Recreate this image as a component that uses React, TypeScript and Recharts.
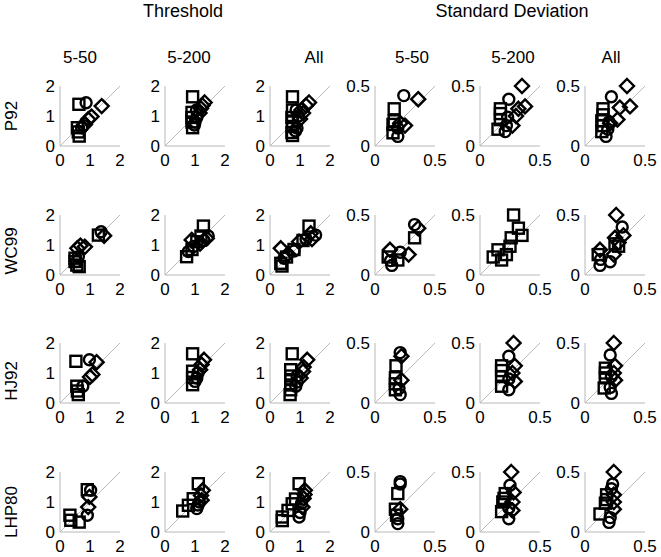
import { ScatterChart, Scatter, XAxis, YAxis, ReferenceLine } from 'recharts';

// [x, y] pairs per panel: sq = squares, ci = circles, di = diamonds
// Threshold panels (0-2)
const p92T50Sq = [[0.63, 1.39], [0.58, 0.61], [0.61, 0.47], [0.64, 0.33]];
const p92T50Ci = [[0.87, 1.44], [0.72, 0.61], [0.78, 0.68]];
const p92T50Di = [[0.83, 0.72], [0.94, 0.89], [1.05, 0.98], [1.39, 1.33]];
const p92T200Sq = [[0.92, 1.64], [0.9, 1.12], [0.9, 0.95], [0.9, 0.8], [0.92, 0.61]];
const p92T200Ci = [[1.0, 0.8], [1.06, 0.95], [1.05, 1.2], [0.98, 0.7]];
const p92T200Di = [[1.15, 1.1], [1.2, 1.25], [1.25, 1.35], [1.32, 1.45]];
const p92TAllSq = [[0.75, 1.64], [0.75, 1.2], [0.73, 0.95], [0.75, 0.8], [0.75, 0.65], [0.73, 0.45], [0.75, 0.35]];
const p92TAllCi = [[0.87, 1.2], [0.9, 0.6], [0.85, 0.5], [0.95, 1.0]];
const p92TAllDi = [[1.0, 0.9], [1.1, 1.1], [1.2, 1.35], [1.3, 1.45], [1.05, 1.2]];

const wc99T50Sq = [[1.28, 1.33], [0.5, 0.56], [0.56, 0.33], [0.64, 0.28], [0.5, 0.45]];
const wc99T50Ci = [[1.37, 1.44], [0.61, 0.61], [0.56, 0.45]];
const wc99T50Di = [[1.47, 1.31], [0.58, 0.89], [0.83, 0.94], [0.68, 0.98]];
const wc99T200Sq = [[1.28, 1.63], [0.72, 0.61], [1.06, 1.11], [1.2, 1.3], [0.9, 0.85]];
const wc99T200Ci = [[0.78, 0.78], [1.44, 1.3], [0.95, 0.95], [1.3, 1.15]];
const wc99T200Di = [[0.89, 1.17], [1.17, 1.05], [1.39, 1.22]];
const wc99TAllSq = [[1.3, 1.63], [0.36, 0.39], [0.55, 0.6], [1.1, 1.15], [0.4, 0.3], [0.8, 0.85]];
const wc99TAllCi = [[0.47, 0.56], [1.52, 1.33], [0.8, 0.8], [1.2, 1.2]];
const wc99TAllDi = [[0.36, 0.89], [0.97, 1.11], [1.36, 1.39], [0.6, 0.7], [1.4, 1.2]];

const hj92T50Sq = [[0.53, 1.39], [0.56, 0.56], [0.61, 0.28], [0.58, 0.4]];
const hj92T50Ci = [[0.98, 1.44], [0.76, 0.56]];
const hj92T50Di = [[1.22, 1.36], [1.0, 0.87], [1.08, 0.95]];
const hj92T200Sq = [[0.92, 1.64], [0.92, 1.06], [0.92, 0.61], [0.92, 0.85]];
const hj92T200Ci = [[1.06, 0.83], [1.1, 1.0], [1.0, 0.72]];
const hj92T200Di = [[1.3, 1.44], [1.17, 1.11], [1.22, 1.28]];
const hj92TAllSq = [[0.74, 1.64], [0.69, 1.11], [0.69, 0.9], [0.69, 0.78], [0.69, 0.44], [0.67, 0.28], [0.69, 0.6]];
const hj92TAllCi = [[0.86, 0.56], [0.9, 0.9], [0.9, 0.7]];
const hj92TAllDi = [[1.24, 1.44], [1.02, 0.83], [1.12, 1.2], [1.1, 1.05]];

const lhp80T50Sq = [[0.33, 0.56], [0.36, 0.39], [0.64, 0.33], [0.91, 1.41]];
const lhp80T50Ci = [[1.02, 1.39], [0.91, 0.56]];
const lhp80T50Di = [[0.98, 1.17], [0.94, 0.83]];
const lhp80T200Sq = [[0.59, 0.7], [0.78, 0.89], [1.11, 1.61], [0.94, 1.11]];
const lhp80T200Ci = [[1.06, 0.78], [1.15, 1.0], [1.1, 0.9]];
const lhp80T200Di = [[1.26, 1.39], [1.22, 1.06], [1.2, 1.22]];
const lhp80TAllSq = [[0.41, 0.5], [0.6, 0.72], [0.74, 0.94], [0.97, 1.61], [0.85, 1.1], [0.41, 0.38]];
const lhp80TAllCi = [[0.97, 0.5], [1.05, 0.95], [1.0, 0.65]];
const lhp80TAllDi = [[1.16, 1.39], [1.08, 0.83], [1.12, 1.12], [1.15, 1.25]];

// Standard deviation panels (0-0.5)
const p92S50Sq = [[0.16, 0.31], [0.15, 0.18], [0.15, 0.11], [0.16, 0.21]];
const p92S50Ci = [[0.24, 0.42], [0.19, 0.08], [0.19, 0.15]];
const p92S50Di = [[0.36, 0.39], [0.21, 0.19], [0.25, 0.17]];
const p92S200Sq = [[0.17, 0.31], [0.17, 0.22], [0.15, 0.14], [0.17, 0.27]];
const p92S200Ci = [[0.24, 0.39], [0.22, 0.17], [0.21, 0.12], [0.23, 0.24]];
const p92S200Di = [[0.35, 0.5], [0.375, 0.33], [0.32, 0.31], [0.27, 0.17], [0.3, 0.25]];
const p92SAllSq = [[0.15, 0.31], [0.14, 0.21], [0.14, 0.12], [0.15, 0.26], [0.15, 0.17]];
const p92SAllCi = [[0.22, 0.41], [0.175, 0.08], [0.19, 0.14], [0.2, 0.2]];
const p92SAllDi = [[0.35, 0.5], [0.375, 0.33], [0.29, 0.32], [0.21, 0.19], [0.27, 0.22]];

const wc99S50Sq = [[0.33, 0.31], [0.11, 0.15], [0.19, 0.125]];
const wc99S50Ci = [[0.33, 0.42], [0.14, 0.08], [0.21, 0.19], [0.13, 0.12]];
const wc99S50Di = [[0.36, 0.39], [0.125, 0.21], [0.28, 0.17]];
const wc99S200Sq = [[0.28, 0.5], [0.32, 0.39], [0.35, 0.33], [0.26, 0.31], [0.25, 0.24], [0.15, 0.21], [0.11, 0.15], [0.22, 0.17], [0.18, 0.125]];
const wc99S200Ci: number[][] = [];
const wc99S200Di: number[][] = [];
const wc99SAllSq = [[0.25, 0.26], [0.11, 0.17], [0.28, 0.24]];
const wc99SAllCi = [[0.31, 0.4], [0.125, 0.08], [0.21, 0.11], [0.13, 0.13]];
const wc99SAllDi = [[0.26, 0.5], [0.32, 0.33], [0.25, 0.31], [0.125, 0.21], [0.24, 0.17], [0.28, 0.27]];

const hj92S50Sq = [[0.175, 0.31], [0.17, 0.21], [0.17, 0.11], [0.17, 0.16]];
const hj92S50Ci = [[0.21, 0.42], [0.21, 0.07], [0.2, 0.12]];
const hj92S50Di = [[0.22, 0.39], [0.22, 0.19]];
const hj92S200Sq = [[0.18, 0.31], [0.18, 0.22], [0.18, 0.14], [0.18, 0.27]];
const hj92S200Ci = [[0.24, 0.39], [0.24, 0.11], [0.24, 0.2]];
const hj92S200Di = [[0.28, 0.5], [0.29, 0.31], [0.29, 0.18], [0.27, 0.25]];
const hj92SAllSq = [[0.17, 0.29], [0.17, 0.21], [0.16, 0.125], [0.17, 0.25]];
const hj92SAllCi = [[0.21, 0.4], [0.22, 0.08], [0.21, 0.13], [0.22, 0.22]];
const hj92SAllDi = [[0.24, 0.5], [0.25, 0.31], [0.25, 0.19], [0.24, 0.25]];

const lhp80S50Sq = [[0.19, 0.32], [0.17, 0.19], [0.18, 0.14]];
const lhp80S50Ci = [[0.21, 0.42], [0.19, 0.07], [0.19, 0.11], [0.21, 0.4]];
const lhp80S50Di = [[0.21, 0.19]];
const lhp80S200Sq = [[0.21, 0.32], [0.19, 0.25], [0.18, 0.17], [0.2, 0.28]];
const lhp80S200Ci = [[0.25, 0.39], [0.24, 0.11], [0.24, 0.2]];
const lhp80S200Di = [[0.26, 0.5], [0.28, 0.33], [0.27, 0.18], [0.27, 0.25]];
const lhp80SAllSq = [[0.18, 0.31], [0.17, 0.24], [0.125, 0.15], [0.18, 0.27]];
const lhp80SAllCi = [[0.23, 0.4], [0.2, 0.08], [0.21, 0.12], [0.22, 0.36]];
const lhp80SAllDi = [[0.24, 0.5], [0.24, 0.31], [0.24, 0.19], [0.24, 0.25]];

const rowLabels = ['P92', 'WC99', 'HJ92', 'LHP80'];
const colLabels = ['5-50', '5-200', 'All', '5-50', '5-200', 'All'];
const groupLabels = ['Threshold', 'Standard Deviation'];
const thrTicks = [0, 1, 2];
const sdTicks = [0, 0.5];

const panels = [
  [
    [p92T50Sq, p92T50Ci, p92T50Di], [p92T200Sq, p92T200Ci, p92T200Di], [p92TAllSq, p92TAllCi, p92TAllDi],
    [p92S50Sq, p92S50Ci, p92S50Di], [p92S200Sq, p92S200Ci, p92S200Di], [p92SAllSq, p92SAllCi, p92SAllDi],
  ],
  [
    [wc99T50Sq, wc99T50Ci, wc99T50Di], [wc99T200Sq, wc99T200Ci, wc99T200Di], [wc99TAllSq, wc99TAllCi, wc99TAllDi],
    [wc99S50Sq, wc99S50Ci, wc99S50Di], [wc99S200Sq, wc99S200Ci, wc99S200Di], [wc99SAllSq, wc99SAllCi, wc99SAllDi],
  ],
  [
    [hj92T50Sq, hj92T50Ci, hj92T50Di], [hj92T200Sq, hj92T200Ci, hj92T200Di], [hj92TAllSq, hj92TAllCi, hj92TAllDi],
    [hj92S50Sq, hj92S50Ci, hj92S50Di], [hj92S200Sq, hj92S200Ci, hj92S200Di], [hj92SAllSq, hj92SAllCi, hj92SAllDi],
  ],
  [
    [lhp80T50Sq, lhp80T50Ci, lhp80T50Di], [lhp80T200Sq, lhp80T200Ci, lhp80T200Di], [lhp80TAllSq, lhp80TAllCi, lhp80TAllDi],
    [lhp80S50Sq, lhp80S50Ci, lhp80S50Di], [lhp80S200Sq, lhp80S200Ci, lhp80S200Di], [lhp80SAllSq, lhp80SAllCi, lhp80SAllDi],
  ],
];

const FONT = '"Liberation Sans", Arial, sans-serif';
const AXIS = '#b8b8b8';
const colLeft = [60, 165, 270, 375, 480, 585];
const rowTop = [86, 215, 343, 472];
const titleX = [80, 189, 314, 412, 513, 611];
const rowLabelY = [116, 251, 381, 512];
const PLOT = 60;
const YW = 34;
const MT = 10;
const MR = 16;
const XH = 25;
const SW = 2.4;

const toPts = (arr: number[][]) => arr.map(([x, y]) => ({ x, y }));

const squareShape = (p: any) => (
  <rect x={p.cx - 5.5} y={p.cy - 5.5} width={11} height={11} fill="none" stroke="#000" strokeWidth={SW} />
);
const circleShape = (p: any) => (
  <circle cx={p.cx} cy={p.cy} r={5.5} fill="none" stroke="#000" strokeWidth={SW} />
);
const diamondShape = (p: any) => (
  <path
    d={`M${p.cx},${p.cy - 7}L${p.cx + 7},${p.cy}L${p.cx},${p.cy + 7}L${p.cx - 7},${p.cy}Z`}
    fill="none"
    stroke="#000"
    strokeWidth={SW}
  />
);

function Panel({ left, top, sd, series }: { left: number; top: number; sd: boolean; series: number[][][] }) {
  const max = sd ? 0.5 : 2;
  const ticks = sd ? sdTicks : thrTicks;
  const tick = { fill: '#000', fontSize: 17, fontFamily: FONT };
  return (
    <div style={{ position: 'absolute', left: left - YW, top: top - MT }}>
      <ScatterChart
        width={YW + PLOT + MR}
        height={MT + PLOT + XH}
        margin={{ top: MT, right: MR, bottom: 0, left: 0 }}
      >
        <XAxis
          type="number"
          dataKey="x"
          domain={[0, max]}
          ticks={ticks}
          interval={0}
          height={XH}
          tickLine={false}
          tickSize={0}
          tickMargin={8}
          axisLine={{ stroke: AXIS }}
          tick={tick}
        />
        <YAxis
          type="number"
          dataKey="y"
          domain={[0, max]}
          ticks={ticks}
          interval={0}
          width={YW}
          tickLine={false}
          tickSize={0}
          tickMargin={5}
          axisLine={{ stroke: AXIS }}
          tick={tick}
        />
        <ReferenceLine
          segment={[{ x: 0, y: 0 }, { x: max, y: max }]}
          stroke="#a8a8a8"
          strokeWidth={0.8}
        />
        <Scatter data={toPts(series[0])} shape={squareShape} isAnimationActive={false} />
        <Scatter data={toPts(series[1])} shape={circleShape} isAnimationActive={false} />
        <Scatter data={toPts(series[2])} shape={diamondShape} isAnimationActive={false} />
      </ScatterChart>
    </div>
  );
}

export default function App() {
  return (
    <div style={{ position: 'absolute', left: 0, top: 0, width: 661, height: 557, background: '#fff', fontFamily: FONT }}>
      {panels.map((row, r) =>
        row.map((series, c) => (
          <Panel key={`${r}-${c}`} left={colLeft[c]} top={rowTop[r]} sd={c >= 3} series={series} />
        ))
      )}
      <svg width={661} height={557} style={{ position: 'absolute', left: 0, top: 0, pointerEvents: 'none' }}>
        <text x={183} y={11} fontSize={18} textAnchor="middle" dominantBaseline="central" fontFamily={FONT}>
          {groupLabels[0]}
        </text>
        <text x={512} y={11} fontSize={18} textAnchor="middle" dominantBaseline="central" fontFamily={FONT}>
          {groupLabels[1]}
        </text>
        {colLabels.map((t, i) => (
          <text key={i} x={titleX[i]} y={57} fontSize={17} textAnchor="middle" dominantBaseline="central" fontFamily={FONT}>
            {t}
          </text>
        ))}
        {rowLabels.map((t, i) => (
          <text
            key={t}
            x={11}
            y={rowLabelY[i]}
            fontSize={17}
            textAnchor="middle"
            dominantBaseline="central"
            fontFamily={FONT}
            transform={`rotate(-90 11 ${rowLabelY[i]})`}
          >
            {t}
          </text>
        ))}
      </svg>
    </div>
  );
}
